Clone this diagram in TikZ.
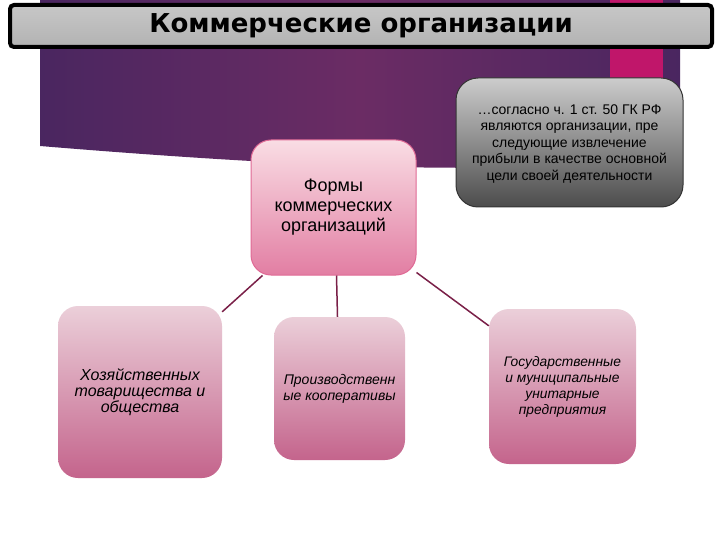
\documentclass[tikz,border=0pt]{standalone}
\usepackage{fontspec}
\setmainfont{Liberation Sans}
\newfontfamily\titlefont{DejaVu Sans}
\definecolor{plum}{HTML}{4A2660}
\definecolor{plummid}{HTML}{6B2C64}
\definecolor{berry}{HTML}{C0166A}
\definecolor{linkcol}{HTML}{7A2048}
\definecolor{cardtop}{HTML}{EBCFD9}
\definecolor{cardbot}{HTML}{C4648C}
\definecolor{roottop}{HTML}{F9DDE4}
\definecolor{rootbot}{HTML}{E27EA3}
\definecolor{rootline}{HTML}{E06A95}
\begin{document}
\begin{tikzpicture}
		[x=1pt,y=-1pt,
		card/.style={rectangle,rounded corners=20pt,align=center,inner sep=0pt,
			top color=cardtop,bottom color=cardbot,draw=none,font=\itshape\fontsize{14}{16}\selectfont},
		rootcard/.style={card,top color=roottop,bottom color=rootbot,draw=rootline,line width=1pt,
			font=\fontsize{18}{20}\selectfont},
		note/.style={rectangle,rounded corners=22pt,align=center,inner sep=0pt,
			top color=black!20,bottom color=black!70,draw=black!80,line width=1pt,
			font=\fontsize{14}{16.5}\selectfont},
		link/.style={draw=linkcol,line width=1.5pt}
		]
		\useasboundingbox[fill=white] (0,0) rectangle (720,540);

		\shade[left color=plum,right color=plum,middle color=plummid]
			(40,0) -- (680,0) -- (680,150) .. controls (560,178) and (330,170) .. (40,146) -- cycle;
		\fill[berry] (610,0) rectangle (663,80);

		\node[draw=black,line width=4pt,rounded corners=4pt,minimum width=702pt,minimum height=42pt,
			top color=black!22,middle color=black!3,bottom color=black!30,
			font=\titlefont\bfseries\fontsize{26}{30}\selectfont] (title) at (361,26){Коммерческие организации};

		\node[note,minimum width=227pt,minimum height=129pt,text depth=-8pt] (law) at (569.5,142.5)
			{…согласно ч. 1 ст. 50 ГК РФ\\являются организации, пре\\следующие извлечение\\прибыли в качестве основной\\цели своей деятельности};

		\node[rootcard,minimum width=165pt,minimum height=135pt] (forms) at (333.5,207.5)
			{Формы\\коммерческих\\организаций};

		\node[card,minimum width=164pt,minimum height=172pt,font=\itshape\fontsize{16}{16}\selectfont] (partners) at (140,392)
			{Хозяйственных\\товарищества и\\общества};
		\node[card,minimum width=131pt,minimum height=143pt] (coops) at (339.5,388.5)
			{Производственн\\ые кооперативы};
		\node[card,minimum width=147pt,minimum height=155pt,font=\itshape\fontsize{13.8}{16}\selectfont] (unitary) at (562.5,386.5)
			{Государственные\\и муниципальные\\унитарные\\предприятия};

		\draw[link] ([xshift=12pt]forms.south west) -- ([yshift=-6pt]partners.north east);
		\draw[link] ([xshift=3pt]forms.south) -- ([xshift=-2pt]coops.north);
		\draw[link] ([yshift=3pt]forms.south east) -- ([yshift=-17pt]unitary.north west);
	\end{tikzpicture}
\end{document}
